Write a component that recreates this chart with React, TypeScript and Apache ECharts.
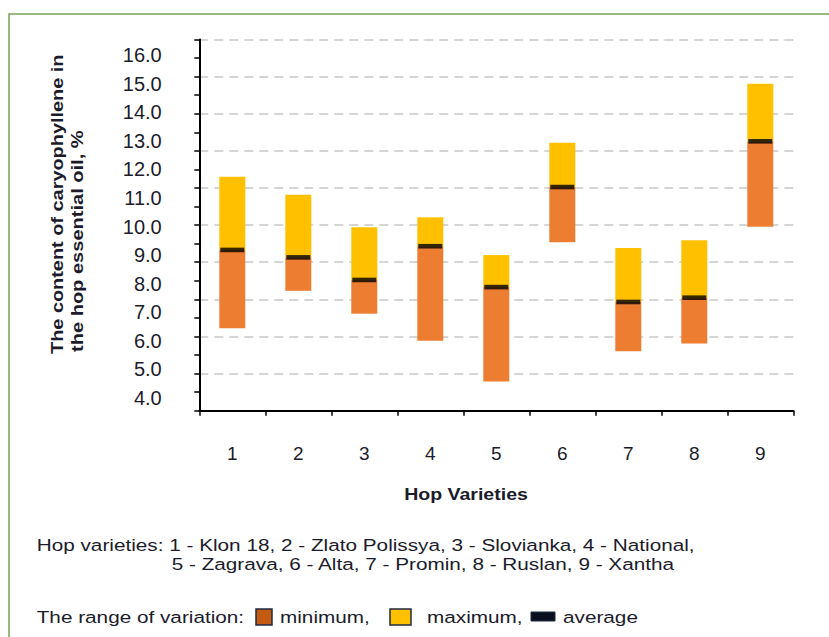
import React, { useEffect, useRef } from "react";
import * as echarts from "echarts";

const categories = ["1", "2", "3", "4", "5", "6", "7", "8", "9"];
const minValues = [6.44, 7.75, 6.95, 6.0, 4.58, 9.45, 5.64, 5.91, 9.99];
const avgValues = [9.18, 8.92, 8.13, 9.31, 7.88, 11.38, 7.36, 7.51, 12.98];
const maxValues = [11.74, 11.11, 9.97, 10.32, 9.0, 12.93, 9.25, 9.52, 14.99];
const yTickLabels = [4, 5, 6, 7, 8, 9, 10, 11, 12, 13, 14, 15, 16];

const FONT = '"Liberation Sans", Arial, sans-serif';
const TXT = "#1b1b2b";
const SX = 1.22;

export default function App() {
  const ref = useRef<HTMLDivElement>(null);
  useEffect(() => {
    if (!ref.current) return;
    const chart = echarts.init(ref.current, null, { renderer: "svg" });
    const lowerPart = avgValues.map((a, i) => +(a - minValues[i]).toFixed(3));
    const upperPart = maxValues.map((m, i) => +(m - avgValues[i]).toFixed(3));
    const txt = (text: string, x: number, y: number, font: string, sx: number, extra: any = {}) => ({
      type: "text",
      x,
      y,
      scaleX: sx,
      ...extra,
      style: { text, font, fill: TXT, align: extra.align || "left", verticalAlign: "middle" },
    });
    const option: any = {
      animation: false,
      backgroundColor: "#fff",
      grid: [
        { left: 199.3, right: 35.7, top: 26.4, bottom: 210.4 },
        { left: 199.3, right: 35.7, top: 39.5, bottom: 226.3 },
      ],
      xAxis: [
        {
          type: "category",
          gridIndex: 0,
          data: categories,
          show: false,
        },
        {
          type: "category",
          gridIndex: 1,
          data: categories,
          boundaryGap: true,
          axisLine: { show: true, lineStyle: { color: "#000", width: 2 } },
          axisTick: { show: true, length: 5, alignWithLabel: false, lineStyle: { color: "#000", width: 1.5 } },
          axisLabel: { show: true, margin: 33, fontSize: 19, color: TXT, fontFamily: FONT },
          splitLine: { show: false },
        },
      ],
      yAxis: [
        {
          type: "value",
          gridIndex: 0,
          min: 3,
          max: 17,
          interval: 1,
          axisLine: { show: false },
          axisTick: { show: false },
          splitLine: { show: false },
          axisLabel: {
            show: true,
            margin: 37.6,
            fontSize: 20,
            color: TXT,
            fontFamily: FONT,
            formatter: (v: number) =>
              yTickLabels.indexOf(Math.round(v)) >= 0 && Math.abs(v - Math.round(v)) < 1e-6 ? v.toFixed(1) : "",
          },
        },
        {
          type: "value",
          gridIndex: 1,
          min: 0,
          max: 10,
          interval: 1,
          axisLine: { show: true, lineStyle: { color: "#000", width: 2 } },
          axisTick: { show: true, length: 5, lineStyle: { color: "#000", width: 1.5 } },
          minorTick: { show: true, splitNumber: 2, length: 5, lineStyle: { color: "#000", width: 1.5 } },
          axisLabel: { show: false },
          splitLine: { show: true, lineStyle: { color: "#c8c8c8", width: 1.6, type: [9, 6] } },
        },
      ],
      series: [
        {
          type: "bar",
          xAxisIndex: 0,
          yAxisIndex: 0,
          stack: "r",
          data: minValues,
          barWidth: 26,
          itemStyle: { color: "transparent" },
          silent: true,
        },
        {
          name: "minimum",
          type: "bar",
          xAxisIndex: 0,
          yAxisIndex: 0,
          stack: "r",
          data: lowerPart,
          barWidth: 26,
          itemStyle: { color: "#ED7D31" },
        },
        {
          name: "maximum",
          type: "bar",
          xAxisIndex: 0,
          yAxisIndex: 0,
          stack: "r",
          data: upperPart,
          barWidth: 26,
          itemStyle: { color: "#FFC000" },
        },
        {
          name: "average",
          type: "scatter",
          xAxisIndex: 0,
          yAxisIndex: 0,
          data: avgValues,
          symbol: "rect",
          symbolSize: [24, 4.6],
          itemStyle: { color: "#000" },
          z: 5,
        },
      ],
      graphic: [
        {
          type: "rect",
          shape: { x: 9, y: 14, width: 900, height: 700 },
          style: { fill: "none", stroke: "#77a35a", lineWidth: 1.5 },
          silent: true,
        },
        txt("The content of caryophyllene in", 57, 354, `bold 17px ${FONT}`, 1.17, { rotation: Math.PI / 2 }),
        txt("the hop essential oil, %", 77, 352, `bold 17px ${FONT}`, 1.18, { rotation: Math.PI / 2 }),
        txt("Hop Varieties", 466, 494, `bold 17px ${FONT}`, 1.15, { align: "center" }),
        txt("Hop varieties: 1 - Klon 18, 2 - Zlato Polissya, 3 - Slovianka, 4 - National,", 36.7, 545, `17px ${FONT}`, SX),
        txt("5 - Zagrava, 6 - Alta, 7 - Promin, 8 - Ruslan, 9 - Xantha", 171.7, 564, `17px ${FONT}`, SX),
        txt("The range of variation:", 36.7, 617, `17px ${FONT}`, SX),
        {
          type: "rect",
          shape: { x: 256, y: 609, width: 16, height: 16 },
          style: { fill: "#C55A11", stroke: "#1F2A44", lineWidth: 1.5 },
        },
        txt("minimum,", 280, 617, `17px ${FONT}`, SX),
        {
          type: "rect",
          shape: { x: 390, y: 609, width: 21, height: 16 },
          style: { fill: "#FFC000", stroke: "#1F2A44", lineWidth: 1.5 },
        },
        txt("maximum,", 427, 617, `17px ${FONT}`, SX),
        {
          type: "rect",
          shape: { x: 531, y: 612, width: 24, height: 9 },
          style: { fill: "#0a0f1e", stroke: "#1F2A44", lineWidth: 1 },
        },
        txt("average", 563, 617, `17px ${FONT}`, SX),
      ],
    };
    chart.setOption(option);
    return () => chart.dispose();
  }, []);
  return (
    <div
      ref={ref}
      style={{ position: "fixed", left: 0, top: 0, width: 829, height: 637, background: "#fff" }}
    />
  );
}
